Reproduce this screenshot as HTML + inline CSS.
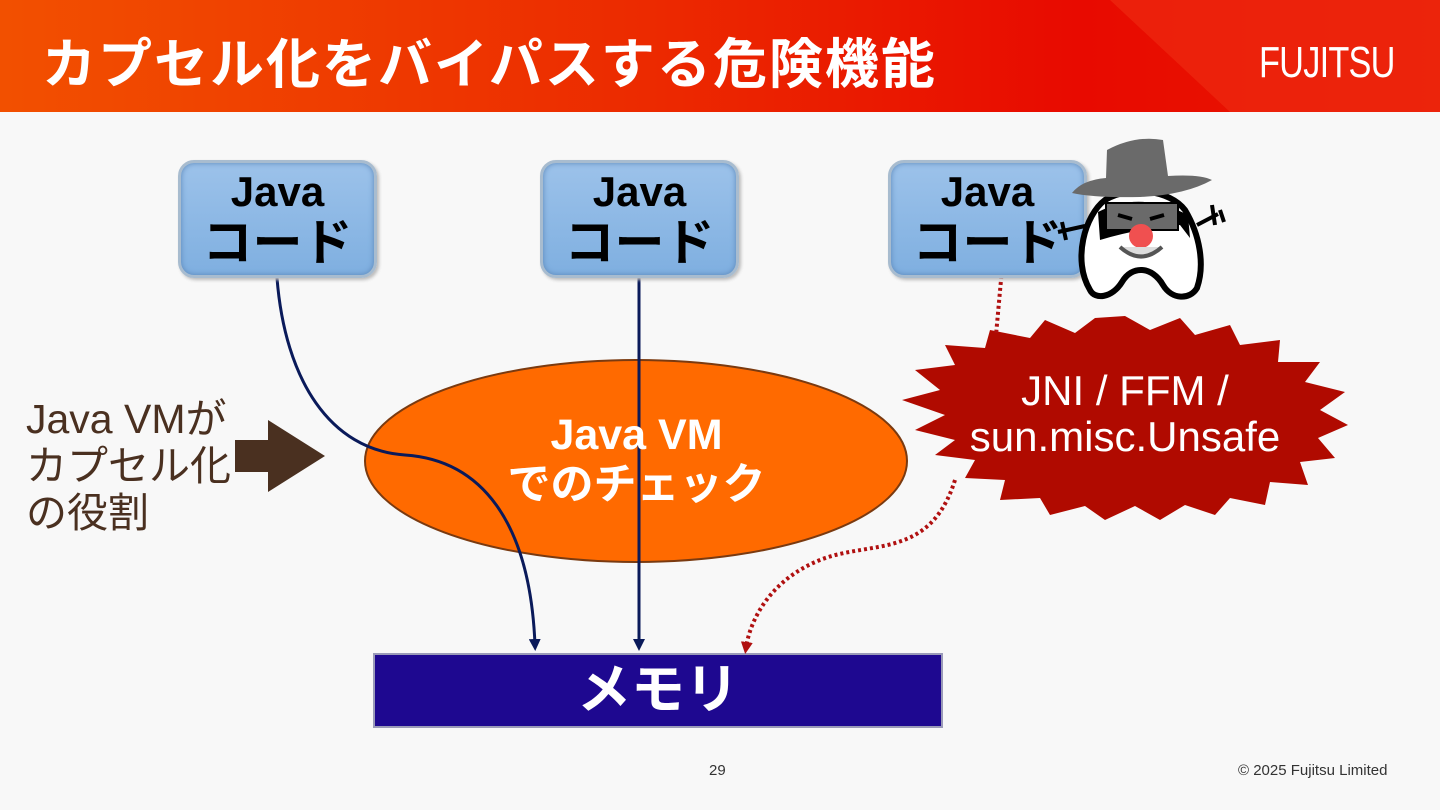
<!DOCTYPE html>
<html><head><meta charset="utf-8"><style>
body{margin:0;width:1440px;height:810px;background:#f8f8f8;position:relative;overflow:hidden;font-family:"Liberation Sans","Noto Sans CJK JP",sans-serif}
.hdr{position:absolute;left:0;top:0;width:1440px;height:112px;background:linear-gradient(90deg,#f25000 0%,#ec2a00 45%,#e80a00 75%,#e81800 100%)}
.title{position:absolute;left:42px;top:20px;font-size:54px;font-weight:bold;color:#fff;letter-spacing:2px}
.logo{position:absolute;left:1259px;top:38px;font-size:44px;color:#fff;font-family:"Liberation Sans",sans-serif;transform:scaleX(0.78);transform-origin:left;letter-spacing:-1px}
.box{position:absolute;width:193px;height:112px;border:3px solid #a8bccf;border-radius:16px;background:linear-gradient(#9cc2ea,#7fafe0);box-shadow:inset 0 0 6px #5a86b8,2px 2px 3px #bbb;text-align:center;font-weight:bold;color:#000}
.box .a{font-size:42px;line-height:46px;margin-top:6px}
.box .b{font-size:50px;line-height:56px;font-weight:bold}
.t{position:absolute}
</style></head><body>
<div class="hdr"></div>
<svg style="position:absolute;left:0;top:0" width="1440" height="112"><polygon points="1110,0 1440,0 1440,112 1230,112" fill="#ee2a10" opacity="0.7"/></svg>
<div class="title">カプセル化をバイパスする危険機能</div>
<div class="logo">FUJITSU</div>

<svg style="position:absolute;left:0;top:0" width="1440" height="810">
<ellipse cx="636" cy="461" rx="271" ry="101" fill="#ff6a00" stroke="#7a3a10" stroke-width="2"/>
<polygon points="1125,316 1150,330 1180,318 1195,335 1230,325 1240,345 1280,340 1278,362 1320,362 1305,382 1345,392 1320,410 1348,425 1318,438 1335,458 1300,462 1308,485 1270,482 1265,505 1230,498 1215,515 1185,505 1160,520 1135,506 1105,520 1085,506 1050,515 1040,498 1000,500 1005,480 965,478 975,460 935,455 955,440 915,430 945,415 902,400 940,390 915,370 955,365 945,345 985,348 990,330 1030,338 1045,320 1075,333 1095,318" fill="#b00a00"/>
<rect x="374" y="654" width="568" height="73" fill="#1e0890" stroke="#9a9ab8" stroke-width="2"/>
<defs>
<marker id="ar" markerWidth="12" markerHeight="12" refX="6" refY="6" orient="auto" markerUnits="userSpaceOnUse"><path d="M0,0 L12,6 L0,12 Z" fill="#b01010"/></marker>
<marker id="ab2" markerWidth="12" markerHeight="12" refX="6" refY="6" orient="auto" markerUnits="userSpaceOnUse"><path d="M0,0 L12,6 L0,12 Z" fill="#0a1a5a"/></marker></defs>
<path d="M277,278 C285,380 330,450 405,455 C480,460 530,520 535,645" fill="none" stroke="#0a1a5a" stroke-width="3" marker-end="url(#ab2)"/>
<line x1="639" y1="278" x2="639" y2="645" stroke="#0a1a5a" stroke-width="3" marker-end="url(#ab2)"/>
<path d="M1003,258 L996,335" stroke="#b01010" stroke-width="4" stroke-dasharray="3,3" fill="none"/>
<path d="M955,480 C930,560 870,540 820,560 C770,580 750,620 746,648" stroke="#b01010" stroke-width="4" stroke-dasharray="3,3" fill="none" marker-end="url(#ar)"/>
<polygon points="235,440 268,440 268,420 325,456 268,492 268,472 235,472" fill="#4a3020"/>
</svg>

<div class="box" style="left:178px;top:160px"><div class="a">Java</div><div class="b">コード</div></div>
<div class="box" style="left:540px;top:160px"><div class="a">Java</div><div class="b">コード</div></div>
<div class="box" style="left:888px;top:160px"><div class="a">Java</div><div class="b">コード</div></div>

<svg style="position:absolute;left:0;top:0" width="1440" height="810">
<path d="M1090,290 C1072,260 1085,215 1105,200 C1130,185 1170,190 1185,210 C1200,235 1205,265 1197,288 C1190,300 1172,300 1163,285 C1152,266 1132,265 1122,282 C1112,298 1095,300 1090,290 Z" fill="#fff" stroke="#000" stroke-width="6"/>
<path d="M1098,212 Q1140,190 1188,215 L1190,238 L1180,225 Q1140,228 1100,240 Z" fill="#000"/>
<rect x="1106" y="203" width="72" height="27" fill="#6a6a6a" stroke="#000" stroke-width="2"/>
<path d="M1118,215 L1132,219 M1150,219 L1164,215" stroke="#000" stroke-width="4"/>
<circle cx="1141" cy="236" r="12" fill="#f05050"/>
<path d="M1120,247 Q1141,266 1162,247" fill="#ddd" stroke="#555" stroke-width="4"/>
<path d="M1107,150 Q1135,135 1163,140 L1168,176 Q1200,174 1212,180 Q1185,195 1140,197 Q1095,198 1072,193 Q1082,180 1106,178 Z" fill="#6a6a6a"/>
<path d="M1058,232 L1085,226 M1062,222 L1066,240 M1197,225 L1218,214 M1212,205 L1215,225 M1220,210 L1224,222" stroke="#000" stroke-width="4"/>
</svg>

<div class="t" style="left:26px;top:396px;font-size:41px;line-height:47px;color:#4a3020">Java VMが<br>カプセル化<br>の役割</div>
<div class="t" style="left:365px;top:410px;width:543px;text-align:center;font-size:43px;line-height:50px;font-weight:bold;color:#fff">Java VM<br>でのチェック</div>
<div class="t" style="left:940px;top:368px;width:370px;text-align:center;font-size:42px;line-height:46px;color:#fff">JNI / FFM /<br>sun.misc.Unsafe</div>
<div class="t" style="left:374px;top:654px;width:568px;text-align:center;font-size:54px;line-height:73px;font-weight:bold;color:#fff">メモリ</div>
<div class="t" style="left:709px;top:762px;font-size:15px;color:#333">29</div>
<div class="t" style="left:1238px;top:762px;font-size:15px;color:#333">© 2025 Fujitsu Limited</div>
</body></html>
